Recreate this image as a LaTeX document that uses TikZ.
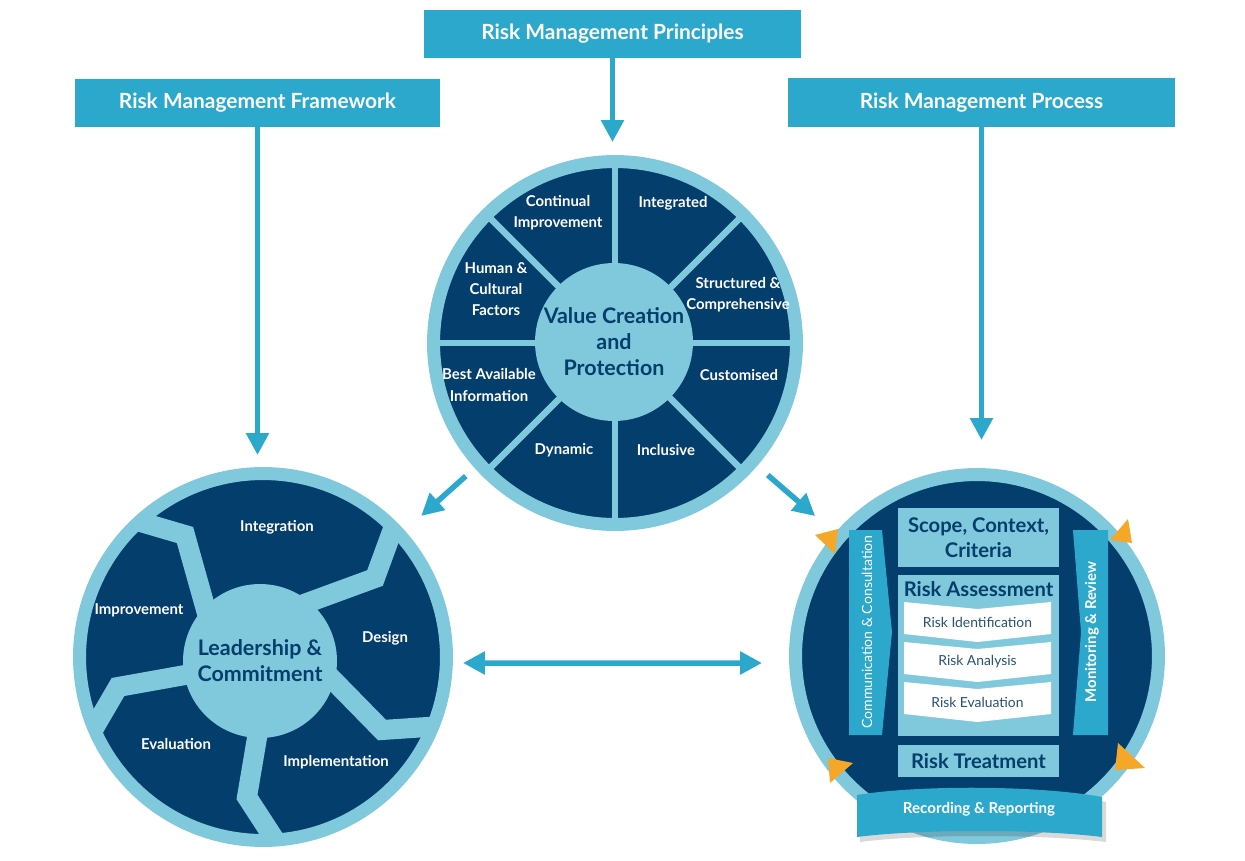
\documentclass[tikz,border=0pt]{standalone}
\usepackage{fontspec}
\setmainfont{Lato}
\usepackage{tikz}
\usetikzlibrary{positioning,arrows.meta,calc}

\definecolor{rmblue}{RGB}{43,168,204}
\definecolor{rmnavy}{RGB}{4,62,108}
\definecolor{rmlight}{RGB}{128,200,220}
\definecolor{rmorange}{RGB}{245,167,40}

\begin{document}
\begin{tikzpicture}[
    x=0.02cm, y=-0.02cm,
    head/.style={fill=rmblue, text=white, minimum height=0.96cm, inner sep=0pt, font=\fontsize{11.9}{13}\selectfont\bfseries},
    wheel/.style={circle, fill=rmnavy, draw=rmlight, line width=0.26cm, outer sep=0.13cm, inner sep=0pt},
    hub/.style={circle, fill=rmlight, inner sep=0pt, text=rmnavy, align=center, font=\fontsize{12.2}{14.8}\selectfont\bfseries},
    seg/.style={text=white, align=center, font=\fontsize{8.5}{12}\selectfont\bfseries},
    spoke/.style={rmlight, line width=0.13cm},
    band/.style={rmlight, line width=0.4cm},
    stage/.style={fill=rmlight, text=rmnavy, minimum width=3.22cm, inner sep=0pt, align=center, font=\fontsize{11.5}{14.5}\selectfont\bfseries},
    steptxt/.style={text=rmnavy!70!gray, font=\fontsize{7.9}{10}\selectfont},
    side/.style={text=white, rotate=90, font=\fontsize{8}{10}\selectfont},
    flow/.style={-{Triangle[width=0.44cm,length=0.44cm]}, line width=0.11cm, rmblue},
    twoway/.style={{Triangle[width=0.44cm,length=0.44cm]}-{Triangle[width=0.44cm,length=0.44cm]}, line width=0.11cm, rmblue},
]
  \useasboundingbox (0,0) rectangle (1245,860);

  % headings
  \node[head, minimum width=7.54cm] (prinbox) at (612.5,34) {Risk Management Principles};
  \node[head, minimum width=7.3cm] (fwbox) at (257.5,103) {Risk Management Framework};
  \node[head, minimum width=7.74cm, minimum height=0.98cm] (procbox) at (981.5,102.5) {Risk Management Process};

  % principles wheel
  \node[wheel, minimum size=7.26cm] (principles) at (615,343) {};
  \foreach \a in {0,45,...,315}
    \draw[spoke] (principles.center) ++(\a:70) -- ++(\a:115);
  \node[hub, minimum size=3.16cm] (value) at (614,342) {Value Creation\\and\\Protection};

  \node[seg] (cont) at (558,213) {Continual\\Improvement};
  \node[seg] (integ) at (673,203) {Integrated};
  \node[seg] (human) at (496,289) {Human \&\\Cultural\\Factors};
  \node[seg] (struct) at (738,295) {Structured \&\\Comprehensive};
  \node[seg] (best) at (489,385) {Best Available\\Information};
  \node[seg] (cust) at (739,375) {Customised};
  \node[seg] (dyn) at (564,450) {Dynamic};
  \node[seg] (incl) at (666,450) {Inclusive};

  % framework wheel
  \node[wheel, minimum size=7.34cm] (framework) at (263,657) {};
  \begin{scope}
    \clip (framework.center) circle (183);
    \draw[band] (208,617) -- (185,535) -- (144,523) -- (100,510);
    \draw[band] (285,611) -- (315,600) -- (375,578) -- (390,537) -- (402,505);
    \draw[band] (315,662) -- (335,682) -- (382,730) -- (427,727) -- (470,724);
    \draw[band] (261,712) -- (258,732) -- (247,797) -- (273,837) -- (292,866);
    \draw[band] (210,670) -- (185,675) -- (118,687) -- (97,723) -- (78,756);
  \end{scope}
  \node[hub, minimum size=3.08cm] (lead) at (260,661) {Leadership \&\\Commitment};

  \node[seg] (integr) at (277,527) {Integration};
  \node[seg] (improv) at (139,610) {Improvement};
  \node[seg] (design) at (385,638) {Design};
  \node[seg] (evalu) at (176,744) {Evaluation};
  \node[seg] (implem) at (336,762) {Implementation};

  % process wheel
  \node[wheel, minimum size=7.26cm] (process) at (977,656) {};
  \node[stage, minimum height=1.18cm] (scope) at (978.5,537.5) {Scope, Context,\\Criteria};
  \node[stage, minimum height=3.22cm] (assess) at (978.5,655.5) {};
  \node[text=rmnavy, font=\fontsize{11.5}{13}\selectfont\bfseries] (assesstitle) at (978.5,589) {Risk Assessment};
  \foreach \yt/\txt/\nm in {602/Risk Identification/ident, 642/Risk Analysis/analy, 682/Risk Evaluation/evalr} {
    \fill[white] (904,\yt) -- (977.5,\yt+7) -- (1051,\yt) -- (1051,\yt+32) -- (977.5,\yt+40) -- (904,\yt+32) -- cycle;
    \node[steptxt] (\nm) at (977.5,\yt+20) {\txt};
  }
  \node[stage, minimum height=0.64cm] (treat) at (978.5,761) {Risk Treatment};

  \fill[rmblue] (849,530) -- (882,530) -- (892,632) -- (882,735) -- (849,735) -- cycle;
  \node[side] (comm) at (867,632) {Communication \& Consultation};
  \fill[rmblue] (1073,530) -- (1108,530) -- (1108,735) -- (1073,735) -- (1081,632) -- cycle;
  \node[side, font=\fontsize{8.5}{10}\selectfont\bfseries] (monit) at (1092,632) {Monitoring \& Review};

  \fill[rmorange] (815,535) -- (838,529) -- (835,554) -- cycle;
  \fill[rmorange] (1110,540) -- (1128,519) -- (1132,543) -- cycle;
  \fill[rmorange] (828,758) -- (853,763) -- (830,783) -- cycle;
  \fill[rmorange] (1118,743) -- (1145,768) -- (1115,770) -- cycle;

  % recording banner
  \fill[black, opacity=.15] (860,800) .. controls (920,788) and (1040,788) .. (1106,802) -- (1106,842) .. controls (1040,834) and (920,834) .. (860,842) -- cycle;
  \fill[rmblue] (857,795) .. controls (917,785) and (1037,785) .. (1102,797) -- (1102,837) .. controls (1040,829) and (917,829) .. (857,837) -- cycle;
  \node[text=white, font=\fontsize{8.6}{10}\selectfont\bfseries] (record) at (979,809) {Recording \& Reporting};

  % connectors
  \draw[flow, shorten >=0.26cm] (prinbox.south) -- (prinbox.south |- principles.north);
  \draw[flow, shorten >=0.24cm] (fwbox.south) -- (fwbox.south |- framework.north);
  \draw[flow, shorten >=0.56cm] (procbox.south) -- (procbox.south |- process.north);
  \draw[flow, shorten <=0.24cm, shorten >=0.44cm] (principles) -- (framework);
  \draw[flow, shorten <=0.28cm, shorten >=0.52cm] (principles) -- (process);
  \draw[twoway, shorten <=0.2cm, shorten >=0.54cm] ([yshift=-0.12cm]framework.east) -- ([yshift=-0.14cm]process.west);
\end{tikzpicture}
\end{document}
